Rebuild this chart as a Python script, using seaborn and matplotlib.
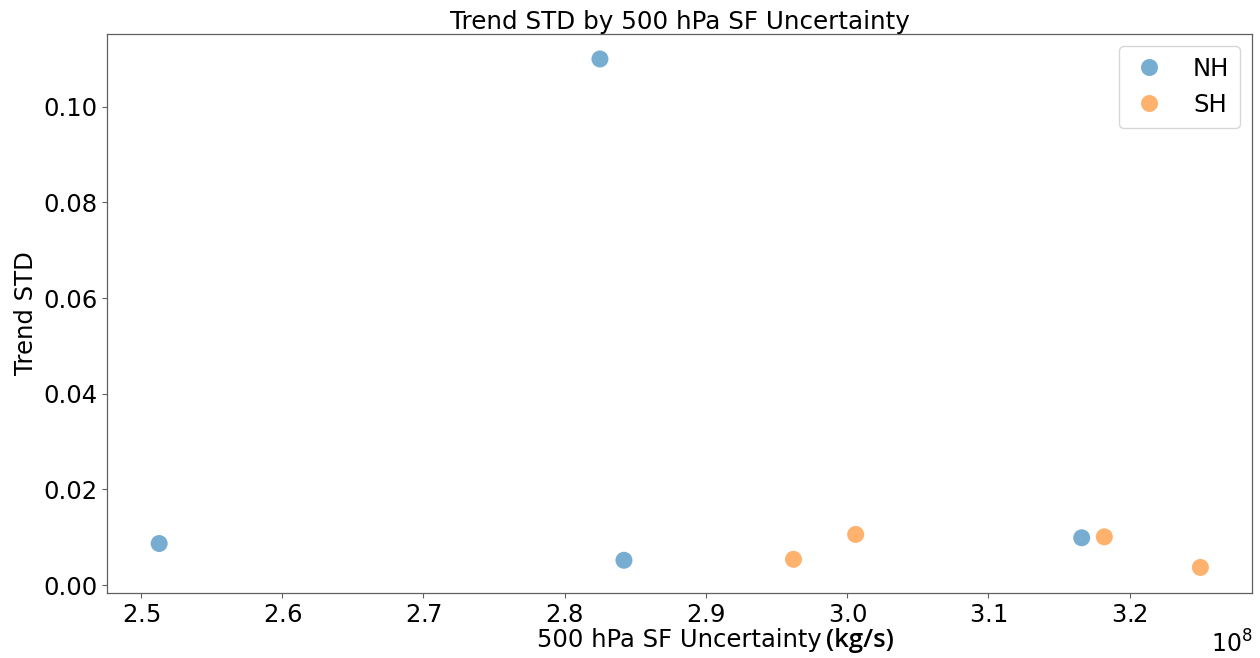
import matplotlib
matplotlib.use("Agg")
import matplotlib.pyplot as plt
from matplotlib.ticker import ScalarFormatter
import seaborn as sns
import pandas as pd

hemisphere = ["NH", "NH", "NH", "NH", "SH", "SH", "SH", "SH"]
sf_uncertainty = [2.513e8, 2.825e8, 2.842e8, 3.166e8, 2.962e8, 3.006e8, 3.182e8, 3.250e8]
trend_std = [0.0087, 0.1100, 0.0052, 0.0099, 0.0054, 0.0106, 0.0101, 0.0037]

df = pd.DataFrame({"Hemisphere": hemisphere, "SF": sf_uncertainty, "STD": trend_std})


class PowFormatter(ScalarFormatter):
    def get_offset(self):
        if self.orderOfMagnitude:
            return r"$10^{%d}$" % self.orderOfMagnitude
        return ""


fig = plt.figure(figsize=(12.6, 6.58), dpi=100)
ax = fig.add_axes([0.085, 0.099, 0.909, 0.850])

sns.scatterplot(data=df, x="SF", y="STD", hue="Hemisphere",
                palette=["#1f77b4", "#ff7f0e"], s=150, alpha=0.6,
                edgecolor="none", ax=ax)

for sp in ax.spines.values():
    sp.set_color("#606060")
    sp.set_linewidth(0.9)

ax.tick_params(labelsize=17.5, colors="#606060", labelcolor="black")
fmt = PowFormatter(useMathText=True)
fmt.set_scientific(True)
fmt.set_powerlimits((0, 0))
ax.xaxis.set_major_formatter(fmt)
ax.xaxis.get_offset_text().set_fontsize(17)

ax.set_title("Trend STD by 500 hPa SF Uncertainty", fontsize=17.7, pad=3)
ax.set_ylabel("Trend STD", fontsize=17.5)
ax.set_xlabel("500 hPa SF Uncertainty", fontsize=17.5, labelpad=1)
ax.annotate("(kg/s)", xy=(1, 0), xycoords=ax.xaxis.label,
            xytext=(3, -0.5), textcoords="offset points",
            ha="left", va="bottom", fontsize=18.5, family="Open Sans",
            fontweight="semibold")

leg = ax.legend(loc="upper right", fontsize=17.5, title=None,
                markerscale=1.0, borderpad=0.45, handletextpad=1.0,
                handlelength=1.6, labelspacing=0.5, borderaxespad=0.5)
for h in leg.legend_handles:
    h.set_alpha(0.6)

fig.savefig("out.png", dpi=100)
